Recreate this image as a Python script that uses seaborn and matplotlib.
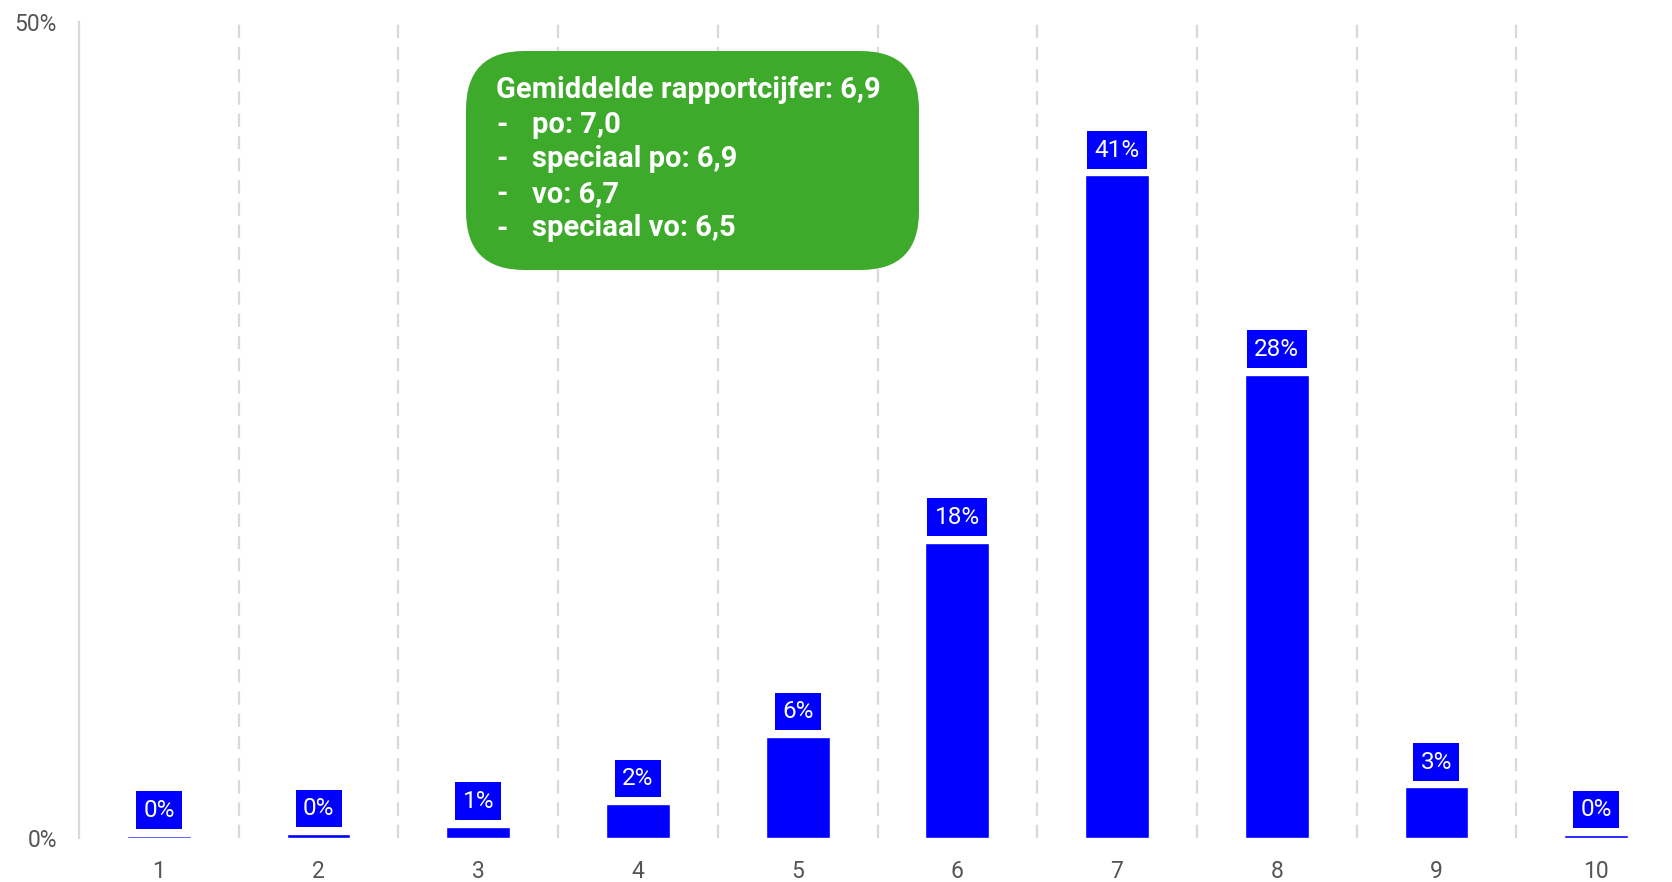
import matplotlib.pyplot as plt
import seaborn as sns
import pandas as pd
from matplotlib.patches import FancyBboxPatch

# Data
cijfers = ['1', '2', '3', '4', '5', '6', '7', '8', '9', '10']
percentages = [0.15, 0.25, 0.7, 2.1, 6.2, 18.1, 40.6, 28.4, 3.1, 0.18]
labels = ['0%', '0%', '1%', '2%', '6%', '18%', '41%', '28%', '3%', '0%']
box_title = 'Gemiddelde rapportcijfer: 6,9'
box_items = ['po: 7,0', 'speciaal po: 6,9', 'vo: 6,7', 'speciaal vo: 6,5']

BLUE = '#0000FF'
GREEN = '#3EAA2B'
GRID = '#D9D9D9'
TXT = '#555555'

sns.set_style('white')
plt.rcParams['font.family'] = ['Roboto', 'DejaVu Sans']

df = pd.DataFrame({'cijfer': cijfers, 'pct': percentages})

fig = plt.figure(figsize=(16.72, 8.82), dpi=100)
ax = fig.add_axes([79 / 1672, 44 / 882, 1597 / 1672, 816 / 882])

sns.barplot(data=df, x='cijfer', y='pct', color=BLUE, width=0.4,
            saturation=1, ax=ax)

ax.set_ylim(0, 50)
ax.set_xlim(-0.5, 9.5)

# labels above bars
ax.bar_label(ax.containers[0], labels=labels, padding=10, color='white',
             fontsize=17.5, bbox=dict(boxstyle='square,pad=0.3', fc=BLUE, ec='none'))

# dashed separators between categories
for xpos in [i + 0.5 for i in range(9)]:
    ax.axvline(xpos, color=GRID, lw=1.6, linestyle=(0, (6, 4)), zorder=0)

for side in ['top', 'right', 'bottom']:
    ax.spines[side].set_visible(False)
ax.spines['left'].set_color(GRID)
ax.spines['left'].set_linewidth(1.6)

ax.set_yticks([0, 50])
ax.set_yticklabels(['0%', '50%'])
ax.tick_params(axis='y', length=0, pad=16, labelsize=16.5, labelcolor=TXT)
ax.tick_params(axis='x', length=0, pad=16, labelsize=16.5, labelcolor=TXT)
ax.set_xlabel('')
ax.set_ylabel('')

# green info box
box = FancyBboxPatch((466 / 1672, 1 - 270 / 882), (919 - 466) / 1672, (270 - 51) / 882,
                     boxstyle='round,pad=0,rounding_size=0.035', transform=fig.transFigure,
                     fc=GREEN, ec='none', mutation_aspect=1672 / 882, zorder=5)
fig.patches.append(box)
txt_kw = dict(color='white', fontsize=21, fontweight='bold', va='top', ha='left',
              linespacing=1.3, zorder=6)
fig.text(496 / 1672, 1 - 76 / 882, box_title, **txt_kw)
fig.text(496 / 1672, 1 - 110.7 / 882, '\n'.join(['-'] * len(box_items)), **txt_kw)
fig.text(532 / 1672, 1 - 110.7 / 882, '\n'.join(box_items), **txt_kw)

plt.savefig('out.png', dpi=100)
